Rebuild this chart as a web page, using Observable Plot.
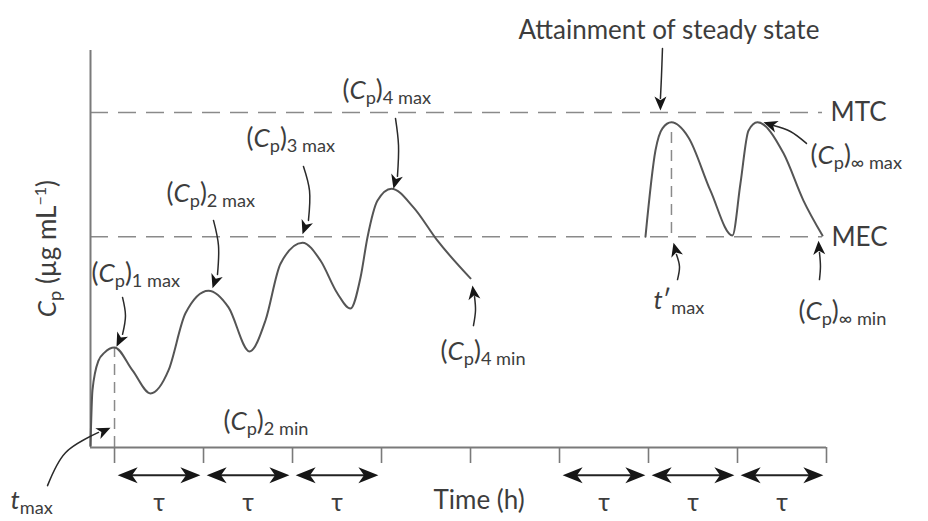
<!DOCTYPE html>
<html><head><meta charset="utf-8">
<script src="https://cdn.jsdelivr.net/npm/d3@7"></script>
<script src="https://cdn.jsdelivr.net/npm/@observablehq/plot@0.6"></script>
<style>body{margin:0;background:#fff} svg{display:block}</style>
</head><body><div id="chart"></div>
<script>
// ---- data (time in dosing-interval units, concentration in arbitrary units) ----
const buildTime = [0, 0.022, 0.09, 0.157, 0.27, 0.472, 0.674, 0.876, 1.067, 1.326, 1.551, 1.787, 1.966, 2.135, 2.382, 2.584, 2.775, 2.921, 3.034, 3.112, 3.225, 3.382, 3.629, 3.899, 4.27];
const buildConc = [0.5, 14.4, 21.9, 23.9, 25.2, 19.4, 13.6, 19.4, 33.8, 39.5, 35.3, 24.2, 32.0, 46.3, 51.6, 47.1, 38.8, 35.0, 42.8, 52.9, 62.2, 65.2, 60.5, 52.1, 42.6];
const steadyTime = [6.236, 6.348, 6.427, 6.528, 6.719, 6.966, 7.213, 7.303, 7.393, 7.494, 7.787, 8.011, 8.225];
const steadyConc = [53.1, 74.8, 80.4, 81.9, 78.1, 64.7, 53.4, 66.5, 79.8, 81.9, 74.1, 62.2, 53.4];
const levelNames = ["MTC", "MEC"];
const levelConc = [84.4, 53.1];
const tickTimes = [0.27, 1.27, 2.27, 3.27, 4.27, 5.27, 6.27, 7.27, 8.27];
const tauStartIndex = [0, 1, 2, 5, 6, 7];
const guideTime = [0.27, 6.528];
const guideLow = [0, 53.9];
const guideHigh = [25.2, 80.6];
const labelText = [
  "Attainment of steady state",
  "(*C*_{p})_{4 max}",
  "(*C*_{p})_{3 max}",
  "(*C*_{p})_{2 max}",
  "(*C*_{p})_{1 max}",
  "(*C*_{p})_{2 min}",
  "(*C*_{p})_{4 min}",
  "*t*′_{max}",
  "(*C*_{p})_{∞ min}",
  "(*C*_{p})_{∞ max}",
  "MTC",
  "MEC",
  "*t*_{max}",
  "Time (h)"
];
const labelTime = [4.809, 2.831, 1.753, 0.854, 0.011, 1.494, 3.933, 6.326, 7.955, 8.09, 8.315, 8.326, -0.899, 3.854];
const labelConc = [105.0, 89.9, 77.8, 64.0, 43.8, 6.5, 24.2, 37.0, 34.3, 73.6, 84.4, 52.9, -13.35, -13.35];
const yLabel = "*C*_{p} (µg mL^{−1})";
// annotation arrows: shaft points (id, time, conc) and tips
const shaftId   = [1,1,1, 2,2,2, 3,3,3, 4,4,4, 5,5,5, 6,6,6, 7,7,7, 8,8,8, 9,9,9, 10,10,10];
const shaftTime = [6.427,6.416,6.404, 3.427,3.461,3.449, 2.393,2.461,2.449, 1.382,1.438,1.427, 0.36,0.393,0.36, -0.483,-0.281,0.09, 4.303,4.326,4.315, 6.596,6.618,6.584, 8.191,8.202,8.191, 8.045,7.865,7.674];
const shaftConc = [100.5,93.7,87.9, 82.9,76.1,68.3, 70.8,64.7,57.2, 57.2,50.9,43.6, 37.8,33.2,28.5, -9.6,-1.3,3.8, 30.7,34.5,38.0, 42.3,45.6,48.6, 42.3,45.6,49.1, 76.6,79.6,81.1];
const tipTime  = [6.404, 3.404, 2.382, 1.371, 0.292, 0.225, 4.292, 6.551, 8.18, 7.562];
const tipConc  = [84.9, 65.2, 53.7, 40.1, 25.4, 5.0, 40.8, 51.6, 52.1, 81.9];
const tipAngle = [180, 195, 200, 199, 206, 65, 352, 345, 357, 288];

// ---- derived tables ----
const build = buildTime.map((t, i) => ({t, c: buildConc[i]}));
const steady = steadyTime.map((t, i) => ({t, c: steadyConc[i]}));
const levels = levelConc.map((c, i) => ({c, name: levelNames[i]}));
const guides = guideTime.map((t, i) => ({t, lo: guideLow[i], hi: guideHigh[i]}));
const labels = labelText.map((s, i) => ({s, t: labelTime[i], c: labelConc[i]}));
const shafts = shaftId.map((id, i) => ({id, t: shaftTime[i], c: shaftConc[i]}));
const tips = tipTime.map((t, i) => ({t, c: tipConc[i], a: tipAngle[i]}));
const tauY = -7.0, tauLabelY = -14.1, gap = 0.035;
const tauShafts = tauStartIndex.map(k => ({t1: tickTimes[k] + gap + 0.1, t2: tickTimes[k + 1] - gap - 0.1}));
const tauHeads = tauStartIndex.flatMap(k => [
  {t: tickTimes[k] + gap, a: 270},
  {t: tickTimes[k + 1] - gap, a: 90}
]);
const tauCenters = tauStartIndex.map(k => ({t: (tickTimes[k] + tickTimes[k + 1]) / 2}));

const head = {draw(ctx, l, r) {
  ctx.moveTo(0, -l); ctx.lineTo(r, 0); ctx.lineTo(0, -l * 0.28); ctx.lineTo(-r, 0); ctx.closePath();
}};

const axisCol = "#7a7a7a", curveCol = "#555", textCol = "#3d3d3d", dashCol = "#8a8a8a";
const FS = 26;

const chart = Plot.plot({
  width: 928, height: 521,
  marginLeft: 90, marginRight: 102, marginTop: 50, marginBottom: 74,
  x: {domain: [0, 8.27], axis: null},
  y: {domain: [0, 100], axis: null},
  style: {fontFamily: "Lato, 'DejaVu Sans', sans-serif", background: "#fff"},
  marks: [
    Plot.ruleY(levels, {y: "c", x1: 0, x2: 8.225, stroke: dashCol, strokeWidth: 1.6, strokeDasharray: "18,10"}),
    Plot.ruleX(guides, {x: "t", y1: "lo", y2: "hi", stroke: dashCol, strokeWidth: 1.5, strokeDasharray: "11,7"}),
    Plot.ruleX([0], {y1: 0, y2: 100, stroke: axisCol, strokeWidth: 2}),
    Plot.ruleY([0], {x1: 0, x2: 8.27, stroke: axisCol, strokeWidth: 2}),
    Plot.axisX({ticks: tickTimes, tickSize: 16, tickFormat: () => "", label: null, stroke: axisCol, strokeWidth: 1.6}),
    Plot.line(build, {x: "t", y: "c", curve: "monotone-x", stroke: curveCol, strokeWidth: 2}),
    Plot.line(steady, {x: "t", y: "c", curve: "monotone-x", stroke: curveCol, strokeWidth: 2}),
    Plot.link(tauShafts, {x1: "t1", x2: "t2", y1: tauY, y2: tauY, stroke: "#222", strokeWidth: 2}),
    Plot.vector(tauHeads, {x: "t", y: tauY, rotate: "a", length: 20, r: 8, anchor: "end", shape: head, fill: "#161616", stroke: "none"}),
    Plot.line(shafts, {x: "t", y: "c", z: "id", curve: "catmull-rom", stroke: "#2a2a2a", strokeWidth: 1.5}),
    Plot.vector(tips, {x: "t", y: "c", rotate: "a", length: 14, r: 6, anchor: "end", shape: head, fill: "#161616", stroke: "none"}),
    Plot.text(labels, {x: "t", y: "c", text: "s", textAnchor: "start", fontSize: FS, fill: textCol}),
    Plot.text(tauCenters, {x: "t", y: tauLabelY, text: () => "τ", fontSize: 25, fill: textCol}),
    Plot.text([yLabel], {x: -0.483, y: 50.1, text: d => d, rotate: -90, fontSize: FS, fill: textCol})
  ]
});

function richify(el, base) {
  const s = el.textContent;
  if (!/[_^*]/.test(s)) return;
  el.textContent = "";
  const re = /_\{([^}]*)\}|\^\{([^}]*)\}|\*([^*]*)\*|([^_^*]+)/g;
  let shift = 0, m;
  while ((m = re.exec(s))) {
    const ts = document.createElementNS("http://www.w3.org/2000/svg", "tspan");
    let target = 0, txt;
    if (m[1] !== undefined) { target = base * 0.2; txt = m[1]; ts.setAttribute("font-size", base * 0.7); }
    else if (m[2] !== undefined) { target = -base * 0.36; txt = m[2]; ts.setAttribute("font-size", base * 0.62); }
    else if (m[3] !== undefined) { txt = m[3]; ts.setAttribute("font-style", "italic"); }
    else txt = m[4];
    if (target !== shift) ts.setAttribute("dy", target - shift);
    shift = target;
    ts.textContent = txt;
    el.appendChild(ts);
  }
}
chart.querySelectorAll("text").forEach(el => richify(el, FS));
document.getElementById("chart").appendChild(chart);
</script>
</body></html>
